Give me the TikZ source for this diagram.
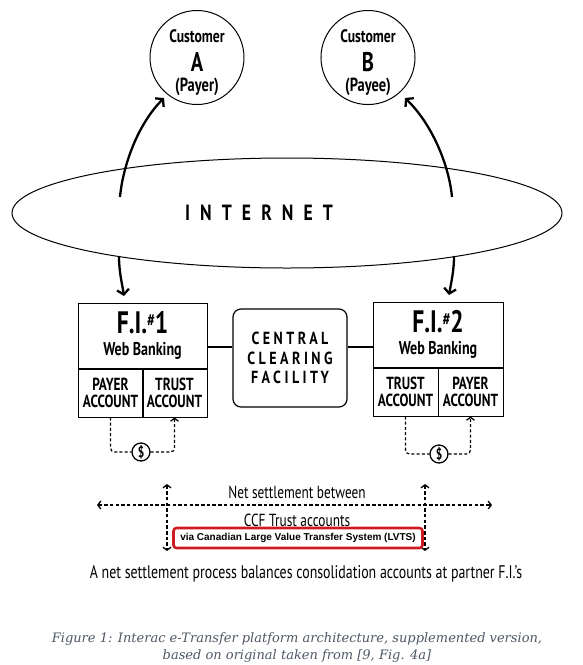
\documentclass[tikz,border=0pt]{standalone}
\usepackage{fontspec}
\usepackage{tikz}
\usetikzlibrary{shapes.geometric,arrows.meta,positioning,calc}

\newfontfamily\condfont[FakeStretch=0.76]{PT Sans}
\newfontfamily\ccffont[FakeStretch=0.8,LetterSpace=20]{PT Sans}
\newfontfamily\netfont[FakeStretch=0.8,LetterSpace=46]{PT Sans}
\newfontfamily\lvtsfont{Liberation Sans}
\newfontfamily\capfont{DejaVu Serif}
\definecolor{lvtsred}{RGB}{205,28,32}
\definecolor{capgray}{RGB}{78,88,100}

\begin{document}
\begin{tikzpicture}[x=1pt,y=-1pt,
    customer/.style={draw, circle, line width=1pt, minimum size=86pt, inner sep=0pt, align=center, font=\condfont\bfseries},
    bank/.style={draw, line width=1pt, minimum height=65pt, inner sep=0pt, align=center, font=\condfont\bfseries},
    account/.style={draw, line width=1pt, minimum width=65pt, minimum height=48pt, inner sep=0pt, align=center, font=\condfont\bfseries\fontsize{17.5}{17}\selectfont},
    link/.style={line width=2.3pt, -{Straight Barb[length=5pt,width=12pt]}},
    dollarflow/.style={line width=1.2pt, dash pattern=on 3pt off 2.2pt, rounded corners=4pt},
    dollar/.style={draw, circle, line width=1.3pt, minimum size=18pt, inner sep=0pt, fill=white, font=\condfont\bfseries\fontsize{15}{15}\selectfont},
    settle/.style={line width=1.3pt, dash pattern=on 3.5pt off 2.2pt, {Straight Barb[length=3pt,width=8pt]}-{Straight Barb[length=3pt,width=8pt]}},
    label/.style={inner sep=0pt, anchor=base, font=\condfont\fontsize{17.5}{17}\selectfont}]

\useasboundingbox (0,0) rectangle (582,665);

% Customers
\node[customer] (custA) at (197,57.5) {{\fontsize{18}{17}\selectfont\rule{0pt}{23pt}Customer}\\[9pt]{\fontsize{27}{22}\selectfont A}\\[5pt]{\fontsize{19}{16}\selectfont(Payer)}};
\node[customer] (custB) at (368,57.5) {{\fontsize{18}{17}\selectfont\rule{0pt}{23pt}Customer}\\[9pt]{\fontsize{27}{22}\selectfont B}\\[5pt]{\fontsize{19}{16}\selectfont(Payee)}};

% Internet cloud
\node[draw, ellipse, line width=1pt, minimum width=550pt, minimum height=110pt, inner sep=0pt] (internet) at (287,213) {};
\node[inner sep=0pt, font=\netfont\bfseries\fontsize{22}{22}\selectfont] (inettext) at (259,213) {INTERNET};

% Links customer <-> bank, broken by the cloud
\coordinate (a1) at (120,197);
\coordinate (a2) at (119,256);
\coordinate (aTop) at (164,98);
\coordinate (aBot) at (124,296);
\coordinate (b1) at (452,197);
\coordinate (b2) at (454,256);
\coordinate (bTop) at (405,98);
\coordinate (bBot) at (449,295);
\draw[link] (a1) .. controls (123,165) and (138,124) .. (aTop);
\draw[link] (a2) .. controls (119,272) and (122,283) .. (aBot);
\draw[link] (b1) .. controls (449,165) and (432,124) .. (bTop);
\draw[link] (b2) .. controls (454,272) and (451,283) .. (bBot);

% Financial institutions
\node[bank, minimum width=129pt] (fi1) at (142.5,335.5) {{\fontsize{31}{30}\selectfont F.I.{\fontsize{18}{18}\selectfont\raisebox{7pt}{\#}}1}\\[7pt]{\fontsize{18.5}{18}\selectfont Web Banking}};
\node[account, anchor=north west] (payer1) at (fi1.south west) {PAYER\\ACCOUNT};
\node[account, anchor=north east] (trust1) at (fi1.south east) {TRUST\\ACCOUNT};

\node[bank, minimum width=130pt] (fi2) at (438,334.5) {{\fontsize{31}{30}\selectfont F.I.{\fontsize{18}{18}\selectfont\raisebox{7pt}{\#}}2}\\[7pt]{\fontsize{18.5}{18}\selectfont Web Banking}};
\node[account, anchor=north west] (trust2) at (fi2.south west) {TRUST\\ACCOUNT};
\node[account, anchor=north east] (payer2) at (fi2.south east) {PAYER\\ACCOUNT};

% Central clearing
\node[draw, rounded corners=8pt, line width=1.2pt, minimum width=114pt, minimum height=98pt, align=center,
      font=\ccffont\bfseries\fontsize{17.5}{19.5}\selectfont] (ccf) at (290,358) {CENTRAL\\CLEARING\\FACILITY};
\coordinate (mid) at (0,347);
\draw[line width=1.2pt] (fi1.east |- mid) -- (ccf.west |- mid);
\draw[line width=1.2pt] (ccf.east |- mid) -- (fi2.west |- mid);

% Dollar transfers inside each bank
\node[dollar] (s1) at (141,452) {\$};
\node[dollar] (s2) at (439,454) {\$};
\draw[dollarflow] (payer1.south) |- (s1.west);
\draw[dollarflow, -{Straight Barb[length=3pt,width=8pt]}] (s1.east) -| (trust1.south);
\draw[dollarflow] (trust2.south) |- (s2.west);
\draw[dollarflow, -{Straight Barb[length=3pt,width=8pt]}] (s2.east) -| (payer2.south);

% Net settlement
\coordinate (hl) at (97,505);
\coordinate (hr) at (492,505);
\coordinate (vlt) at (167,484);
\coordinate (vlb) at (167,551);
\coordinate (vrt) at (425,484);
\coordinate (vrb) at (425,551);
\draw[settle] (hl) -- (hr);
\draw[settle] (vlt) -- (vlb);
\draw[settle] (vrt) -- (vrb);

\node[label] (net1) at (297,498) {Net settlement between};
\node[label] (net2) at (297,526) {CCF Trust accounts};
\node[draw=lvtsred, line width=2.6pt, rounded corners=3pt, fill=white, minimum width=249pt, minimum height=20pt, inner sep=0pt,
      font=\lvtsfont\bfseries\fontsize{10}{10}\selectfont] (lvts) at (298,538) {via Canadian Large Value Transfer System (LVTS)};
\node[label, font=\condfont\fontsize{18.3}{18}\selectfont] (summary) at (306,578) {A net settlement process balances consolidation accounts at partner F.I.’s};

% Caption
\node[align=center, text=capgray, inner sep=0pt, font=\capfont\itshape\fontsize{13}{17}\selectfont] (caption) at (297,647)
  {Figure 1: Interac e-Transfer platform architecture, supplemented version,\\based on original taken from [9, Fig. 4a]};
\end{tikzpicture}
\end{document}
